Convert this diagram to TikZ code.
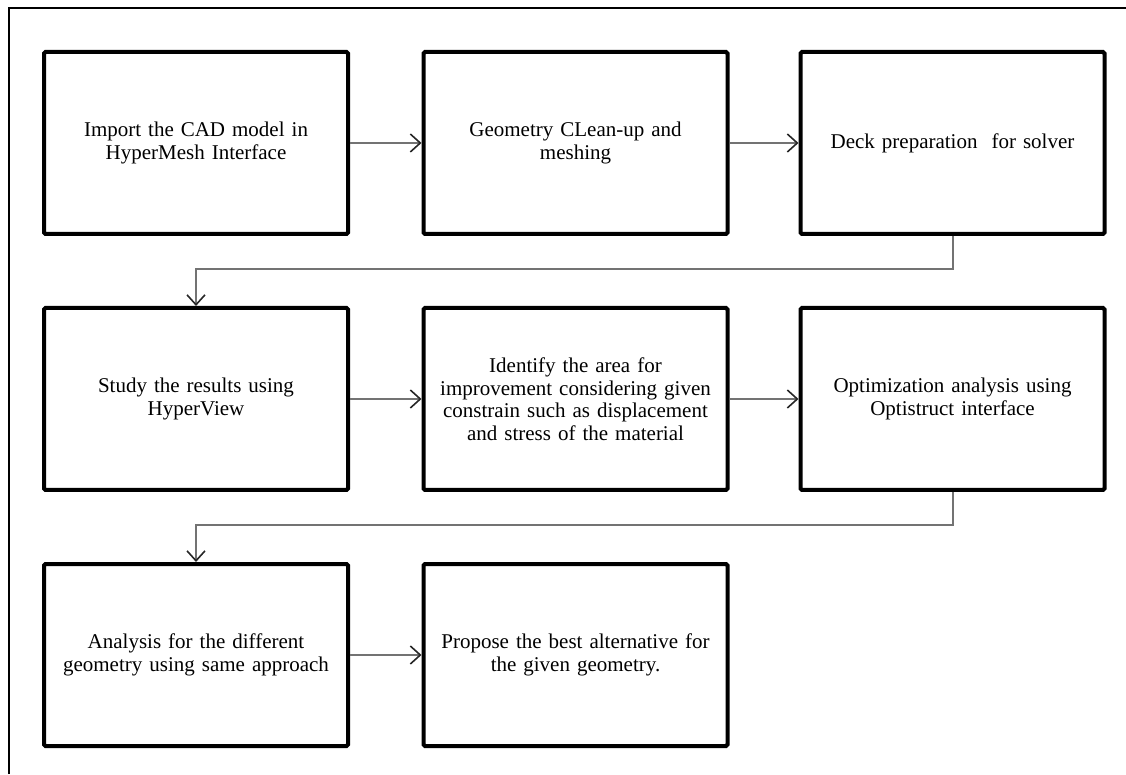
\documentclass[tikz,border=0pt]{standalone}
\usepackage{fontspec}
\setmainfont{Liberation Serif}
\usetikzlibrary{arrows.meta}
\begin{document}
\begin{tikzpicture}[x=1pt,y=1pt,
  stepbox/.style={draw=black, line width=4pt, rounded corners=1.5pt,
    minimum width=304pt, minimum height=182pt, align=center,
    font=\fontsize{21}{22.5}\selectfont, inner sep=0pt, text width=296pt},
  flow/.style={draw=black!55, line width=2pt,
    -{Straight Barb[length=10pt,width=18pt,line width=1.6pt,color=black!85]}},
  frame/.style={draw=black, line width=2pt}]
\useasboundingbox (0,0) rectangle (1126,774);
% outer frame (partly visible)
\draw[frame] (9,0) -- (9,766) -- (1126,766);
% row 1
\node[stepbox] (b1) at (196,631) {Import the CAD model in\\HyperMesh Interface};
\node[stepbox] (b2) at (575.5,631) {Geometry CLean-up and\\meshing};
\node[stepbox] (b3) at (952.5,631) {Deck preparation\ \ for solver};
% row 2
\node[stepbox] (b4) at (196,375) {Study the results using\\HyperView};
\node[stepbox] (b5) at (575.5,375) {Identify the area for\\improvement considering given\\constrain such as displacement\\and stress of the material};
\node[stepbox] (b6) at (952.5,375) {Optimization analysis using\\Optistruct interface};
% row 3
\node[stepbox] (b7) at (196,119) {Analysis for the different\\geometry using same approach};
\node[stepbox] (b8) at (575.5,119) {Propose the best alternative for\\the given geometry.};
% connectors
\draw[flow] (b1.east) -- (b2.west);
\draw[flow] (b2.east) -- (b3.west);
\draw[flow] (b4.east) -- (b5.west);
\draw[flow] (b5.east) -- (b6.west);
\draw[flow] (b7.east) -- (b8.west);
\draw[flow] (b3.south) -- ++(0,-33) -| (b4.north);
\draw[flow] (b6.south) -- ++(0,-33) -| (b7.north);
\end{tikzpicture}
\end{document}
